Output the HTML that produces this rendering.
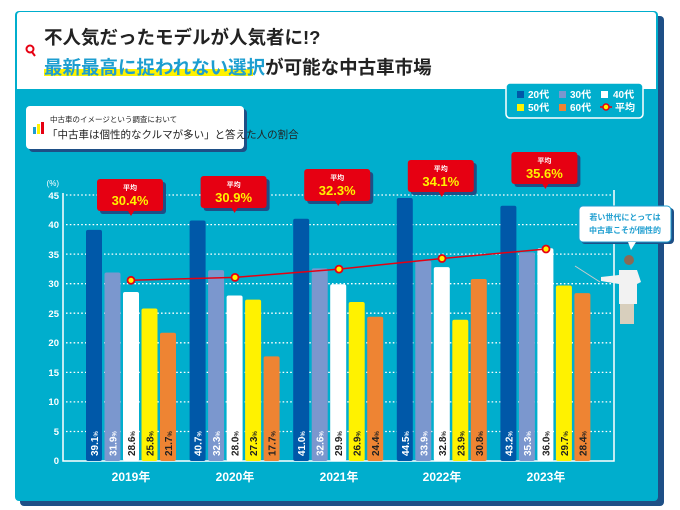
<!DOCTYPE html>
<html><head><meta charset="utf-8"><style>
body{margin:0;background:#fff;}
svg{display:block;font-family:"Liberation Sans","Noto Sans CJK JP",sans-serif;}
</style></head><body>
<svg width="680" height="510" viewBox="0 0 680 510">
<rect x="20" y="16" width="644" height="490" rx="4" fill="#1e4f86"/>
<rect x="15" y="11" width="643" height="490" rx="4" fill="#00aecd"/>
<path d="M17 15 a3 3 0 0 1 3 -3 h633 a3 3 0 0 1 3 3 V89 H17 Z" fill="#fff"/>
<circle cx="30" cy="49" r="3.5" fill="none" stroke="#e60012" stroke-width="2"/>
<line x1="32" y1="52" x2="35" y2="56" stroke="#e60012" stroke-width="2"/>
<text x="44" y="44" font-size="18.5" font-weight="bold" fill="#222">不人気だったモデルが人気者に!?</text>
<rect x="44" y="69" width="209" height="7" fill="#fff200"/>
<text x="44" y="74" font-size="18.5" font-weight="bold" fill="#1d9ed0">最新最高に捉われない選択<tspan fill="#222">が可能な中古車市場</tspan></text>
<!-- legend -->
<rect x="506" y="83" width="137" height="35" rx="4" fill="#00aecd" stroke="#fff" stroke-width="1.5"/>
<g font-size="10" font-weight="bold" fill="#fff">
<rect x="517" y="91" width="7" height="7" fill="#0058a8"/><text x="528" y="98">20代</text>
<rect x="559" y="91" width="7" height="7" fill="#7b97ce"/><text x="570" y="98">30代</text>
<rect x="601" y="91" width="7" height="7" fill="#fff"/><text x="613" y="98">40代</text>
<rect x="517" y="104" width="7" height="7" fill="#fff200"/><text x="528" y="111">50代</text>
<rect x="559" y="104" width="7" height="7" fill="#ee8433"/><text x="570" y="111">60代</text>
<line x1="600" y1="107" x2="612" y2="107" stroke="#e60012" stroke-width="1.5"/><circle cx="606" cy="107" r="3" fill="#fff200" stroke="#e60012" stroke-width="1.5"/><text x="615" y="111">平均</text>
</g>
<!-- subtitle box -->
<rect x="29" y="109" width="218" height="43" rx="4" fill="#1e4f86"/>
<rect x="26" y="106" width="218" height="43" rx="4" fill="#fff"/>
<rect x="33" y="127" width="3" height="7" fill="#1d9ed0"/><rect x="37" y="124" width="3" height="10" fill="#fff200"/><rect x="41" y="122" width="3" height="12" fill="#e60012"/>
<text x="50" y="122" font-size="7.5" fill="#222">中古車のイメージという調査において</text>
<text x="47" y="138" font-size="10.5" fill="#222">「中古車は個性的なクルマが多い」と答えた人の割合</text>
<!-- axes -->
<g stroke="#fff" stroke-width="1.3" stroke-dasharray="1.6 2.2">
<line x1="66" y1="195" x2="612" y2="195"/><line x1="66" y1="224.6" x2="612" y2="224.6"/><line x1="66" y1="254.1" x2="612" y2="254.1"/><line x1="66" y1="283.7" x2="612" y2="283.7"/><line x1="66" y1="313.2" x2="612" y2="313.2"/><line x1="66" y1="342.8" x2="612" y2="342.8"/><line x1="66" y1="372.4" x2="612" y2="372.4"/><line x1="66" y1="401.9" x2="612" y2="401.9"/><line x1="66" y1="431.5" x2="612" y2="431.5"/>
</g>
<path d="M63 193 V461 H614 V190" fill="none" stroke="#fff" stroke-width="1.5"/>
<g font-size="9.5" font-weight="bold" fill="#fff" text-anchor="end">
<text x="59" y="186" font-size="8" font-weight="normal">(%)</text>
<text x="59" y="199">45</text><text x="59" y="228">40</text><text x="59" y="258">35</text><text x="59" y="287">30</text><text x="59" y="317">25</text><text x="59" y="346">20</text><text x="59" y="376">15</text><text x="59" y="405">10</text><text x="59" y="435">5</text><text x="59" y="464">0</text>
</g>
<g font-size="12" font-weight="bold" fill="#fff" text-anchor="middle">
<text x="131" y="481">2019年</text><text x="235" y="481">2020年</text><text x="339" y="481">2021年</text><text x="442" y="481">2022年</text><text x="546" y="481">2023年</text>
</g>
<g id="bars"></g>
<polyline points="131,280.3 235,277.4 339,269.1 442,258.5 546,249" fill="none" stroke="#e60012" stroke-width="1.5"/>
<g fill="#fff200" stroke="#e60012" stroke-width="1.8">
<circle cx="131" cy="280.3" r="3.5"/><circle cx="235" cy="277.4" r="3.5"/><circle cx="339" cy="269.1" r="3.5"/><circle cx="442" cy="258.5" r="3.5"/><circle cx="546" cy="249" r="3.5"/>
</g>
<g id="bubbles"></g>
<!-- speech box -->
<rect x="581" y="208" width="93" height="36" rx="4" fill="#1e4f86"/>
<rect x="579" y="206" width="92" height="36" rx="4" fill="#fff" stroke="#1d9ed0" stroke-width="1"/>
<path d="M628 242 l3 8 l5 -8" fill="#fff"/>
<text x="625" y="220" font-size="8" font-weight="bold" fill="#1d9ed0" text-anchor="middle">若い世代にとっては</text>
<text x="625" y="233" font-size="8" font-weight="bold" fill="#1d9ed0" text-anchor="middle">中古車こそが個性的</text>
<!-- man -->
<line x1="575" y1="266" x2="600" y2="282" stroke="#ccc" stroke-width="1"/>
<circle cx="629" cy="260" r="5" fill="#8a6a55"/>
<path d="M619 270 h18 l4 12 -4 2 v20 h-18 v-20 l-18 -3 v-4 l18 -2z" fill="#f2f2f2"/>
<rect x="620" y="304" width="14" height="20" fill="#d8cfbd"/>
</svg>
<script>
const data=[[39.1,31.9,28.6,25.8,21.7],[40.7,32.3,28.0,27.3,17.7],[41.0,32.6,29.9,26.9,24.4],[44.5,33.9,32.8,23.9,30.8],[43.2,35.3,36.0,29.7,28.4]];
const cols=["#0058a8","#7b97ce","#ffffff","#fff200","#ee8433"];
const tc=["#fff","#fff","#222","#222","#222"];
let s="";
const y0=461,k=5.91;
data.forEach((g,i)=>{g.forEach((v,j)=>{const x=86+i*103.6+j*18.5,h=v*k,y=y0-h;
s+=`<rect x="${x}" y="${y}" width="16" height="${h}" rx="2" fill="${cols[j]}"/>`;
s+=`<text transform="translate(${x+12},${y0-5}) rotate(-90)" font-size="10" font-weight="bold" fill="${tc[j]}">${v.toFixed(1)}<tspan font-size="6">%</tspan></text>`;});});
document.getElementById("bars").innerHTML=s;
const avg=["30.4","30.9","32.3","34.1","35.6"],tops=[179,176,169,160,152];
let b="";
avg.forEach((a,i)=>{const cx=131+i*103.6,t=tops[i];
b+=`<rect x="${cx-31}" y="${t+3}" width="66" height="32" rx="3" fill="#1e4f86"/><rect x="${cx-34}" y="${t}" width="66" height="32" rx="3" fill="#e60012"/><path d="M${cx-3} ${t+32} l3 5 l3 -5z" fill="#e60012"/>`;
b+=`<text x="${cx-1}" y="${t+11}" font-size="7" font-weight="bold" fill="#fff" text-anchor="middle">平均</text><text x="${cx-1}" y="${t+26}" font-size="13" font-weight="bold" fill="#fff200" text-anchor="middle">${a}%</text>`;});
document.getElementById("bubbles").innerHTML=b;
</script>
</body></html>
